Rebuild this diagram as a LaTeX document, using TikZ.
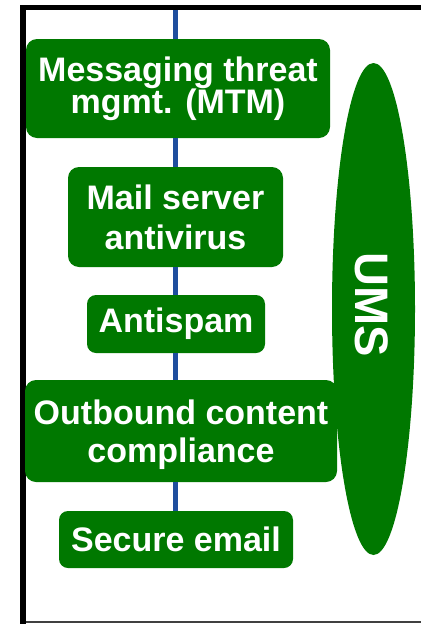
\documentclass[tikz,border=0pt]{standalone}
\usepackage{fontspec}
\setmainfont{Liberation Sans}
\usetikzlibrary{shapes.geometric}
\definecolor{boxgreen}{RGB}{0,120,0}
\definecolor{wireblue}{RGB}{31,78,158}
\tikzset{
  stage/.style={draw=none, fill=boxgreen, rounded corners=11pt, inner sep=0pt,
    text=white, align=center, font=\bfseries\fontsize{34}{38}\selectfont},
  wire/.style={draw=wireblue, line width=5pt},
  umsblob/.style={ellipse, fill=boxgreen, draw=none, inner sep=0pt},
}
\begin{document}
\begin{tikzpicture}[x=1pt,y=-1pt]
  \useasboundingbox (0,0) rectangle (421,624);
  % frame
  \fill[black] (20,5) rectangle (421,10);
  \fill[black] (20,5) rectangle (26,624);
  \draw[black!75, line width=1.6pt] (26,622) -- (421,622);

  % UMS ellipse
  \node[umsblob, minimum width=83pt, minimum height=492pt] (ums) at (373.5,309) {};
  \node[rotate=-90, text=white, inner sep=0pt, font=\bfseries\fontsize{47}{50}\selectfont] (umstxt) at (371.5,305) {UMS};

  % stack of stages
  \node[stage, minimum width=304pt, minimum height=99pt,
        font=\bfseries\fontsize{34}{32}\selectfont] (mtm) at (178,88.5) {Messaging threat\\mgmt. (MTM)};
  \node[stage, minimum width=215pt, minimum height=100pt,
        font=\bfseries\fontsize{34}{40}\selectfont] (av) at (175.5,217) {Mail server\\antivirus};
  \node[stage, minimum width=178pt, minimum height=58pt, rounded corners=9pt] (spam) at (176,324) {Antispam};
  \node[stage, minimum width=312pt, minimum height=102pt, text depth=0pt] (occ) at (181,431) {Outbound content\\compliance};
  \node[stage, minimum width=234pt, minimum height=57pt, rounded corners=9pt] (sec) at (176,539.5) {Secure email};

  % flow line through the stages
  \coordinate (top) at (175,10);
  \draw[wire] (top) -- (top |- mtm.north);
  \draw[wire] (top |- mtm.south) -- (top |- av.north);
  \draw[wire] (top |- av.south) -- (top |- spam.north);
  \draw[wire] (top |- spam.south) -- (top |- occ.north);
  \draw[wire] (top |- occ.south) -- (top |- sec.north);
\end{tikzpicture}
\end{document}
